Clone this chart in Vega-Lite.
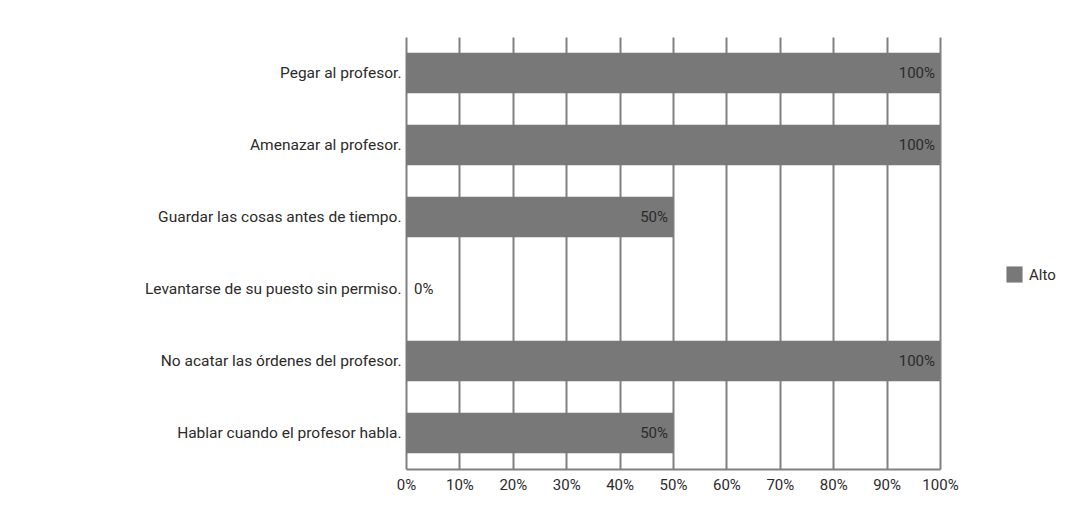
{
  "$schema": "https://vega.github.io/schema/vega-lite/v6.json",
  "autosize": {"type": "none"},
  "padding": {"left": 406, "top": 37, "right": 150, "bottom": 56},
  "width": 534,
  "height": 432,
  "background": "white",
  "config": {
    "font": "Roboto",
    "view": {"stroke": null}
  },
  "data": {
    "values": [
      {"conducta": "Pegar al profesor.", "valor": 1.0, "nivel": "Alto"},
      {"conducta": "Amenazar al profesor.", "valor": 1.0, "nivel": "Alto"},
      {"conducta": "Guardar las cosas antes de tiempo.", "valor": 0.5, "nivel": "Alto"},
      {"conducta": "Levantarse de su puesto sin permiso.", "valor": 0.0, "nivel": "Alto"},
      {"conducta": "No acatar las órdenes del profesor.", "valor": 1.0, "nivel": "Alto"},
      {"conducta": "Hablar  cuando el profesor habla.", "valor": 0.5, "nivel": "Alto"}
    ]
  },
  "encoding": {
    "y": {
      "field": "conducta",
      "type": "nominal",
      "sort": null,
      "title": null,
      "scale": {"paddingInner": 0.44, "paddingOuter": 0.22},
      "axis": {
        "ticks": false,
        "domain": false,
        "labelFontSize": 15.5,
        "labelColor": "#2b2b2b",
        "labelPadding": 5,
        "labelLimit": 400
      }
    },
    "x": {
      "field": "valor",
      "type": "quantitative",
      "title": null,
      "scale": {"domain": [0, 1], "nice": false},
      "axis": {
        "format": ".0%",
        "values": [0, 0.1, 0.2, 0.3, 0.4, 0.5, 0.6, 0.7, 0.8, 0.9, 1.0],
        "labelOverlap": false,
        "labelFlush": false,
        "ticks": false,
        "domain": true,
        "domainColor": "#808080",
        "domainWidth": 2,
        "grid": true,
        "gridColor": "#808080",
        "gridWidth": 2,
        "gridOpacity": 1,
        "labelFontSize": 15,
        "labelColor": "#2b2b2b",
        "labelPadding": 8
      }
    }
  },
  "layer": [
    {
      "mark": {"type": "bar", "color": "#787878"},
      "encoding": {
        "color": {
          "field": "nivel",
          "type": "nominal",
          "scale": {"range": ["#787878"]},
          "legend": {
            "title": null,
            "orient": "none",
            "legendX": 600,
            "legendY": 229,
            "symbolType": "square",
            "symbolSize": 260,
            "symbolStrokeWidth": 0,
            "labelFontSize": 15,
            "labelColor": "#2b2b2b",
            "labelOffset": 6
          }
        }
      }
    },
    {
      "transform": [{"filter": "datum.valor > 0"}],
      "mark": {"type": "text", "align": "right", "dx": -5, "fontSize": 15, "color": "#2b2b2b"},
      "encoding": {"text": {"field": "valor", "type": "quantitative", "format": ".0%"}}
    },
    {
      "transform": [{"filter": "datum.valor == 0"}],
      "mark": {"type": "text", "align": "left", "dx": 8, "fontSize": 15, "color": "#2b2b2b"},
      "encoding": {"text": {"field": "valor", "type": "quantitative", "format": ".0%"}}
    }
  ]
}
